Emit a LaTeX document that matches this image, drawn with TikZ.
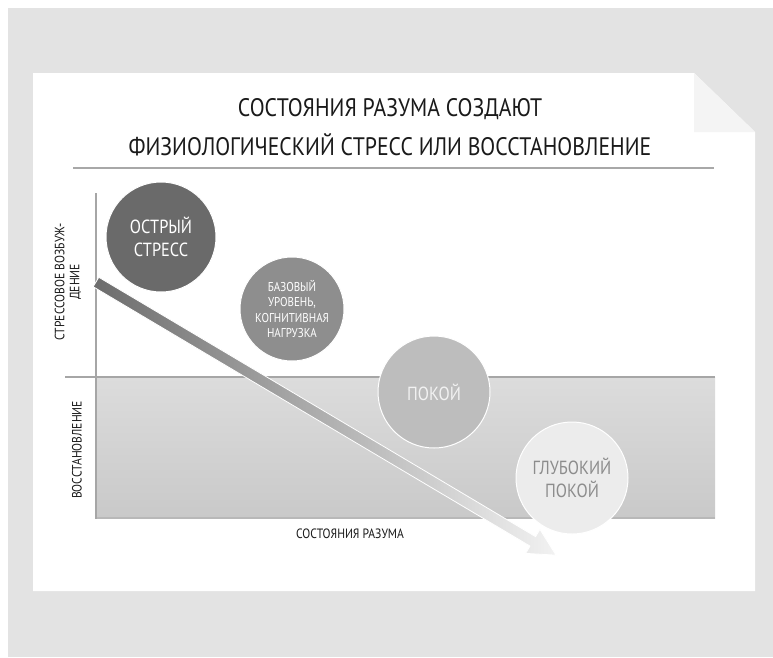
\documentclass[tikz,border=0pt]{standalone}
\usepackage{fontspec}
\setmainfont{PT Sans}
\newfontfamily\cond[FakeStretch=0.86]{PT Sans}
\definecolor{bg}{HTML}{E3E3E3}
\definecolor{flap}{HTML}{F4F4F4}
\definecolor{sepc}{HTML}{A8A8A8}
\definecolor{axisc}{HTML}{A6A6A6}
\definecolor{zonetop}{HTML}{DCDCDC}
\definecolor{zonebot}{HTML}{C9C9C9}
\definecolor{arA}{HTML}{6C6C6C}
\definecolor{arB}{HTML}{F2F2F2}
\definecolor{cA}{HTML}{6A6A6A}
\definecolor{cB}{HTML}{8E8E8E}
\definecolor{cC}{HTML}{BDBDBD}
\definecolor{cD}{HTML}{ECECEC}
\definecolor{txt}{HTML}{1A1A1A}
\tikzset{
  titletext/.style={font=\cond\fontsize{25.3}{30}\selectfont, text=txt, inner sep=0pt},
  smalltext/.style={font=\cond\fontsize{13.5}{15}\selectfont, text=txt, inner sep=0pt, align=center},
  bubble/.style={circle, draw=white, line width=1pt, minimum size=#1, inner sep=0pt, align=center},
}
\begin{document}
\begin{tikzpicture}[x=1pt,y=-1pt]
\useasboundingbox (0,0) rectangle (773,657);
\fill[white] (0,0) rectangle (773,657);
\fill[bg] (8,8) rectangle (773,657);
% paper with folded corner
\fill[white] (33,73) -- (694,73) -- (755,132) -- (755,591) -- (33,591) -- cycle;
\fill[flap] (694,73) -- (694,132) -- (755,132) -- cycle;
% title
\node[titletext] (t1) at (390,109) {СОСТОЯНИЯ РАЗУМА СОЗДАЮТ};
\node[titletext] (t2) at (390,145) {ФИЗИОЛОГИЧЕСКИЙ СТРЕСС ИЛИ ВОССТАНОВЛЕНИЕ};
\draw[sepc, line width=2.5pt] (73,168) -- (714,168);
% recovery zone
\shade[top color=zonetop, bottom color=zonebot] (96,377) rectangle (715,518);
\draw[axisc, line width=2pt] (65,377) -- (715,377);
\draw[axisc!80, line width=1.5pt] (96,518) -- (715,518);
\draw[axisc, line width=1.5pt] (96,193) -- (96,519);
% axis labels
\node[smalltext, rotate=90] (ylab) at (68,282) {СТРЕССОВОЕ ВОЗБУЖ-\\ДЕНИЕ};
\node[smalltext, rotate=90] (rlab) at (77,450) {ВОССТАНОВЛЕНИЕ};
\node[smalltext] (xlab) at (350,534) {СОСТОЯНИЯ РАЗУМА};
% big gradient arrow
\begin{scope}[shift={(96,282)}, rotate=-30.7]
\shade[left color=arA, right color=arB, draw=white, line width=0.8pt]
  (0,-5.5) -- (508,-5.5) -- (508,-14) -- (535,0) -- (508,14) -- (508,5.5) -- (0,5.5) -- cycle;
\end{scope}
% state bubbles
\node[bubble=110pt, fill=cA, text=white, font=\cond\fontsize{19}{23}\selectfont] (s1) at (161,237) {ОСТРЫЙ\\СТРЕСС};
\node[bubble=104pt, fill=cB, text=white, font=\cond\fontsize{12.8}{15.5}\selectfont] (s2) at (292,309) {БАЗОВЫЙ\\УРОВЕНЬ,\\КОГНИТИВНАЯ\\НАГРУЗКА};
\node[bubble=112pt, fill=cC, text=white!95!black, font=\cond\fontsize{19}{23}\selectfont] (s3) at (434,392) {ПОКОЙ};
\node[bubble=112pt, fill=cD, text=black!45, font=\cond\fontsize{19}{23}\selectfont] (s4) at (572,478) {ГЛУБОКИЙ\\ПОКОЙ};
\end{tikzpicture}
\end{document}
